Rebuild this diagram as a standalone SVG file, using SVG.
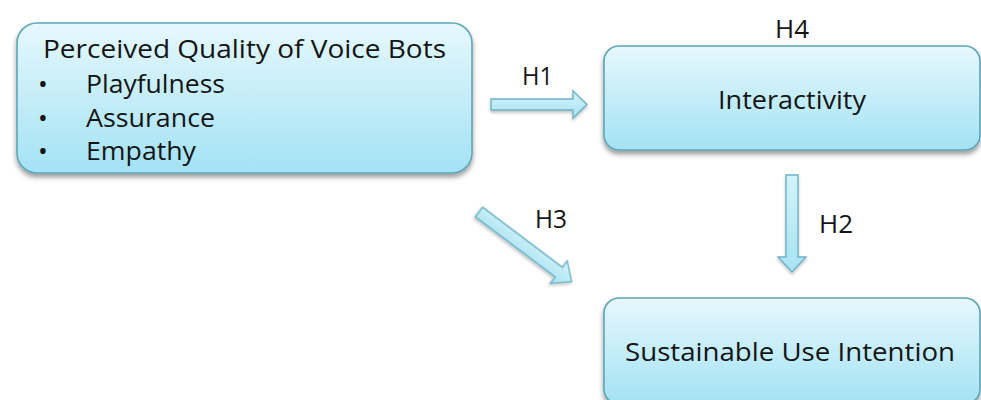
<svg xmlns="http://www.w3.org/2000/svg" width="981" height="400" viewBox="0 0 981 400">
  <defs>
    <linearGradient id="boxFill" x1="0" y1="0" x2="0" y2="1">
      <stop offset="0" stop-color="#e6f8fd"/>
      <stop offset="1" stop-color="#a3e2f4"/>
    </linearGradient>
    <linearGradient id="arrowFill" x1="0" y1="0" x2="0" y2="1">
      <stop offset="0" stop-color="#d4f3fb"/>
      <stop offset="1" stop-color="#a6e2f2"/>
    </linearGradient>
    <filter id="shadow" x="-10%" y="-10%" width="120%" height="130%">
      <feDropShadow dx="0" dy="3.5" stdDeviation="2.5" flood-color="#000" flood-opacity="0.4"/>
    </filter>
    <filter id="arrowShadow" x="-20%" y="-20%" width="140%" height="140%">
      <feDropShadow dx="0" dy="2" stdDeviation="1.5" flood-color="#000" flood-opacity="0.25"/>
    </filter>
  </defs>
  <style>
    .box { fill: url(#boxFill); stroke: #5ea5b7; stroke-width: 1.6; filter: url(#shadow); }
    .arrow { fill: url(#arrowFill); stroke: #6cb3c5; stroke-width: 1.4; stroke-linejoin: miter; filter: url(#arrowShadow); }
    text { font-family: "Open Sans", "Noto Sans", "DejaVu Sans", sans-serif; font-size: 26px; fill: #151515; }
    .mid { text-anchor: middle; }
  </style>

  <rect width="981" height="400" fill="#ffffff"/>

  <!-- connectors: block arrows with hypothesis labels -->
  <g id="connectors">
    <polygon class="arrow" points="491,99 573,99 573,91 587,104.5 573,118 573,110 491,110"/>
    <text x="522" y="85" textLength="31" lengthAdjust="spacingAndGlyphs">H1</text>

    <polygon class="arrow" points="786,175 798,175 798,257 806,257 792,272 778,257 786,257"/>
    <text x="819" y="233" textLength="34" lengthAdjust="spacingAndGlyphs">H2</text>

    <polygon class="arrow" transform="translate(479,212) rotate(37)" points="0,-6 100,-6 100,-14 116,0 100,14 100,6 0,6"/>
    <text x="535" y="228" textLength="32" lengthAdjust="spacingAndGlyphs">H3</text>

    <text x="775" y="38" textLength="34" lengthAdjust="spacingAndGlyphs">H4</text>
  </g>

  <!-- predictor -->
  <g id="perceived-quality">
    <rect class="box" x="17" y="23" width="455" height="150" rx="20" ry="20"/>
    <text x="43" y="58" textLength="403" lengthAdjust="spacingAndGlyphs">Perceived Quality of Voice Bots</text>
    <text x="43" y="93" class="mid">•</text>
    <text x="86" y="93" textLength="139" lengthAdjust="spacingAndGlyphs">Playfulness</text>
    <text x="43" y="127" class="mid">•</text>
    <text x="86" y="127" textLength="129" lengthAdjust="spacingAndGlyphs">Assurance</text>
    <text x="43" y="160" class="mid">•</text>
    <text x="86" y="160" textLength="110" lengthAdjust="spacingAndGlyphs">Empathy</text>
  </g>

  <!-- mediator -->
  <g id="interactivity">
    <rect class="box" x="604" y="46" width="376" height="104" rx="15" ry="15"/>
    <text x="718" y="109" textLength="148" lengthAdjust="spacingAndGlyphs">Interactivity</text>
  </g>

  <!-- outcome -->
  <g id="sustainable-use-intention">
    <rect class="box" x="604" y="298" width="376" height="106" rx="15" ry="15"/>
    <text x="625" y="361" textLength="330" lengthAdjust="spacingAndGlyphs">Sustainable Use Intention</text>
  </g>
</svg>
